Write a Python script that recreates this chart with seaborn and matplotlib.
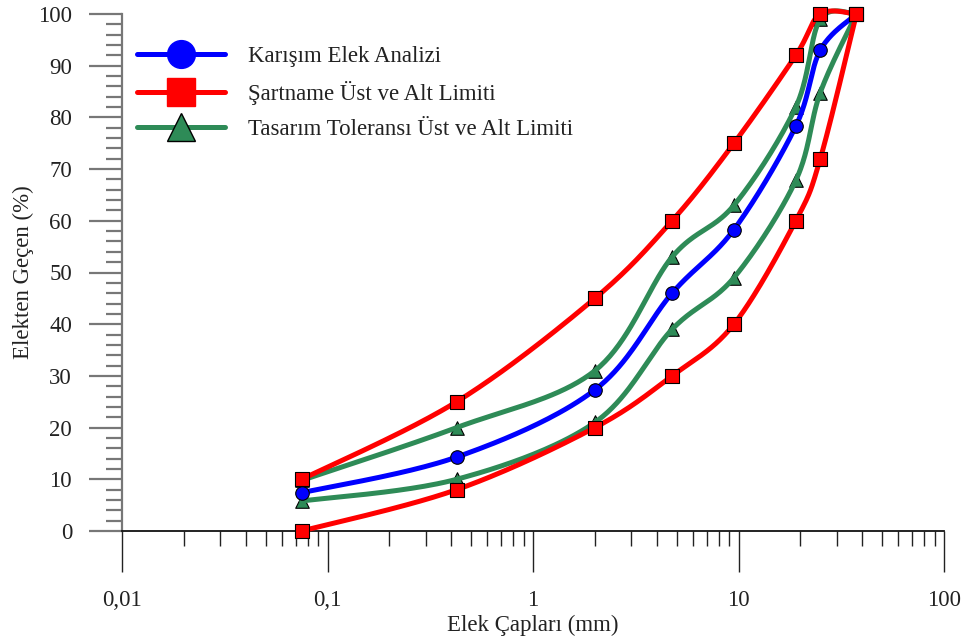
import numpy as np
import pandas as pd
import matplotlib
matplotlib.use("Agg")
import matplotlib.pyplot as plt
from matplotlib.lines import Line2D
from matplotlib.ticker import FixedLocator, LogLocator, MultipleLocator, NullFormatter
import seaborn as sns

# ---- data ----
sieve = [0.075, 0.425, 2.0, 4.75, 9.5, 19.0, 25.0, 37.5]
karisim = [7.4, 14.3, 27.3, 46.0, 58.3, 78.3, 93.0, 100.0]
sartname_ust = [10.0, 25.0, 45.0, 60.0, 75.0, 92.0, 100.0, 100.0]
sartname_alt = [0.0, 8.0, 20.0, 30.0, 40.0, 60.0, 72.0, 100.0]
tolerans_ust = [9.8, 20.0, 31.0, 53.0, 63.0, 82.0, 99.0, 100.0]
tolerans_alt = [5.8, 10.0, 21.0, 39.0, 49.0, 67.8, 84.8, 100.0]
xticks = [0.01, 0.1, 1, 10, 100]
xticklabels = ["0,01", "0,1", "1", "10", "100"]
labels = ["Karışım Elek Analizi", "Şartname Üst ve Alt Limiti", "Tasarım Toleransı Üst ve Alt Limiti"]

sns.set_style("white")
plt.rcParams["font.family"] = ["Liberation Serif", "DejaVu Serif"]
FS = 16.5
plt.rcParams["font.size"] = FS
TXT = "#222222"

fig = plt.figure(figsize=(9.64, 6.44), dpi=100)
ax = fig.add_axes([122/964, 113/644, 822/964, 517/644])

XS, YS = 205.5, 5.17  # px per decade / per unit (for smoothing in display space)


def smooth(xs, ys, n=40):
    u = np.log10(np.asarray(xs)) * XS
    v = np.asarray(ys) * YS
    P = np.column_stack([u, v])
    P = np.vstack([P[0], P, P[-1]])
    out = []
    for i in range(1, len(P) - 2):
        p0, p1, p2, p3 = P[i - 1], P[i], P[i + 1], P[i + 2]
        t = np.linspace(0, 1, n, endpoint=(i == len(P) - 3))[:, None]
        c = 0.5 * ((2 * p1) + (-p0 + p2) * t + (2 * p0 - 5 * p1 + 4 * p2 - p3) * t ** 2
                   + (-p0 + 3 * p1 - 3 * p2 + p3) * t ** 3)
        out.append(c)
    c = np.vstack(out)
    return 10 ** (c[:, 0] / XS), c[:, 1] / YS


BLUE, RED, GREEN = "#0000ff", "#ff0000", "#2e8b57"
LW = 3.6

# green (drawn first: markers under lines)
for ser in (tolerans_ust, tolerans_alt):
    sns.scatterplot(x=sieve, y=ser, ax=ax, marker="^", s=95, color=GREEN,
                    edgecolor="black", linewidth=0.8, zorder=2, clip_on=False, legend=False)
    sx, sy = smooth(sieve, ser)
    sns.lineplot(x=sx, y=sy, ax=ax, sort=False, estimator=None, color=GREEN,
                 lw=LW, zorder=3, legend=False).lines[-1].set_clip_on(False)

sx, sy = smooth(sieve, karisim)
sns.lineplot(x=sx, y=sy, ax=ax, sort=False, estimator=None, color=BLUE,
             lw=LW, zorder=4, legend=False).lines[-1].set_clip_on(False)
sns.scatterplot(x=sieve, y=karisim, ax=ax, marker="o", s=95, color=BLUE,
                edgecolor="black", linewidth=0.8, zorder=5, clip_on=False, legend=False)

for ser in (sartname_ust, sartname_alt):
    sx, sy = smooth(sieve, ser)
    sns.lineplot(x=sx, y=sy, ax=ax, sort=False, estimator=None, color=RED,
                 lw=LW, zorder=6, legend=False).lines[-1].set_clip_on(False)
    sns.scatterplot(x=sieve, y=ser, ax=ax, marker="s", s=95, color=RED,
                    edgecolor="black", linewidth=0.8, zorder=7, clip_on=False, legend=False)

ax.set_xscale("log")
ax.set_xlim(0.01, 100)
ax.set_ylim(0, 100)

ax.xaxis.set_major_locator(FixedLocator(xticks))
ax.set_xticklabels(xticklabels)
ax.xaxis.set_minor_locator(LogLocator(base=10, subs=np.arange(2, 10), numticks=20))
ax.xaxis.set_minor_formatter(NullFormatter())
ax.yaxis.set_major_locator(MultipleLocator(10))
ax.yaxis.set_minor_locator(MultipleLocator(2))

for s in ("top", "right"):
    ax.spines[s].set_visible(False)
ax.spines["bottom"].set_color("#111111")
ax.spines["bottom"].set_linewidth(1.3)
ax.spines["left"].set_color("#777777")
ax.spines["left"].set_linewidth(1.6)

ax.tick_params(which="both", bottom=True, left=True, top=False, right=False)
ax.tick_params(axis="x", which="major", direction="out", length=29.5, width=1.0,
               color="#222222", pad=13, labelsize=FS, labelcolor=TXT)
ax.tick_params(axis="x", which="minor", direction="out", length=11, width=1.0, color="#222222")
ax.tick_params(axis="y", which="major", direction="out", length=24, width=1.6,
               color="#777777", pad=12, labelsize=FS, labelcolor=TXT)
ax.tick_params(axis="y", which="minor", direction="out", length=11.5, width=1.6, color="#777777")

ax.set_xlabel("Elek Çapları (mm)", fontsize=FS, color=TXT, labelpad=3)
ax.set_ylabel("Elekten Geçen (%)", fontsize=FS, color=TXT, labelpad=3)

handles = [
    Line2D([], [], color=BLUE, lw=LW, marker="o", markersize=20, markerfacecolor=BLUE, markeredgecolor=BLUE),
    Line2D([], [], color=RED, lw=LW, marker="s", markersize=20, markerfacecolor=RED, markeredgecolor=RED),
    Line2D([], [], color=GREEN, lw=LW, marker="^", markersize=20, markerfacecolor=GREEN,
           markeredgecolor="black", markeredgewidth=1.0),
]
leg = ax.legend(handles, labels, loc="upper left", bbox_to_anchor=(0.018, 0.938),
                frameon=False, borderpad=0, borderaxespad=0, handlelength=3.84,
                handletextpad=1.0, labelspacing=0.615, fontsize=FS)
for t in leg.get_texts():
    t.set_color(TXT)

fig.savefig("out.png", dpi=100)
